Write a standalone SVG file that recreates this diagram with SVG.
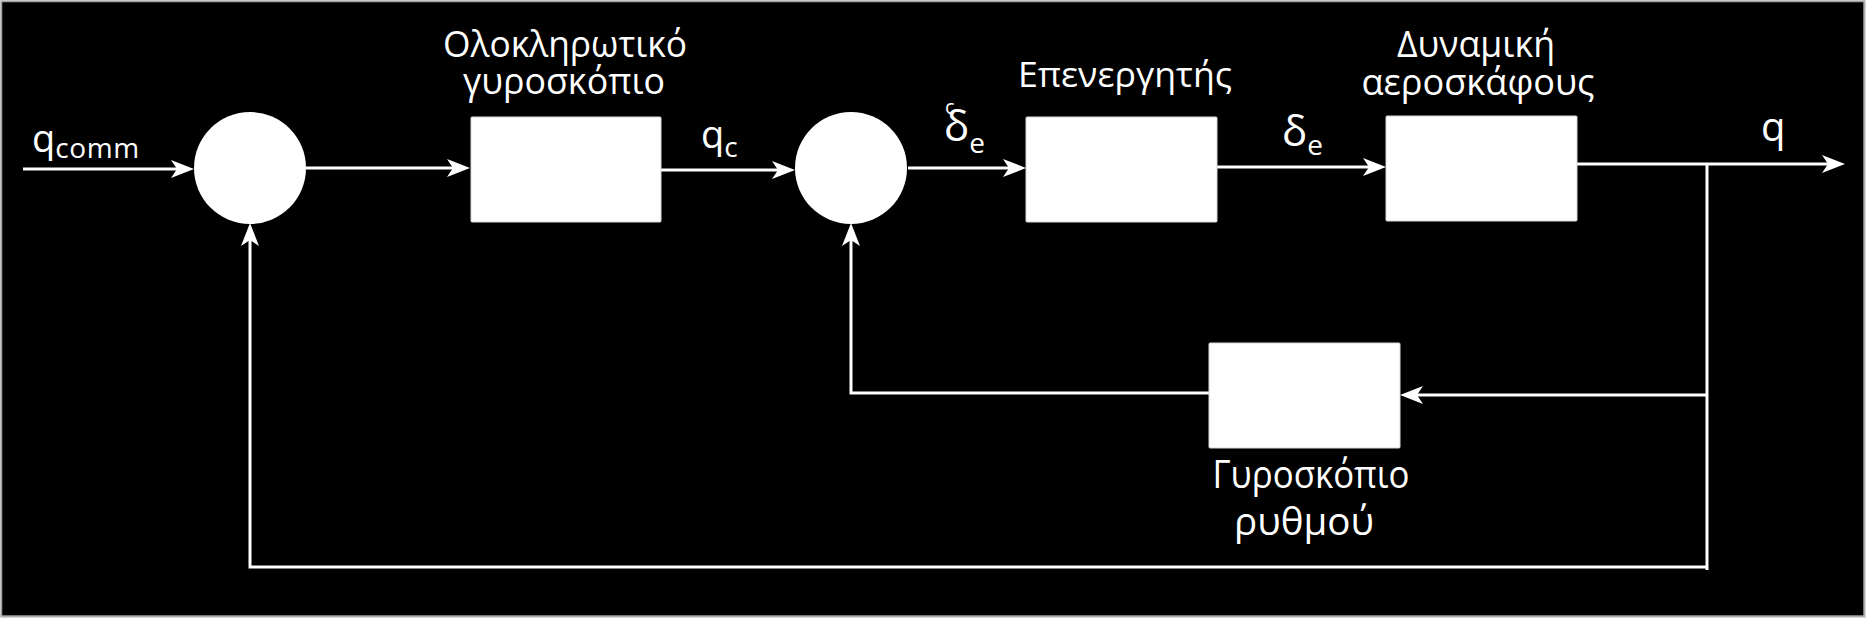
<svg xmlns="http://www.w3.org/2000/svg" width="1866" height="618" viewBox="0 0 1866 618">
<style>
.bg{fill:#000;stroke:#a0a0a0;stroke-width:1.5}
.blk{fill:#fff;stroke:#d8d8d8;stroke-width:1}
.ln{fill:none;stroke:#fff;stroke-width:3}
.ar{marker-end:url(#ah)}
text{font-family:"Open Sans","Noto Sans","Liberation Sans",sans-serif;fill:#fff}
.t{font-size:37px;text-anchor:middle}
</style>
<defs>
<marker id="ah" markerUnits="userSpaceOnUse" markerWidth="26" markerHeight="20" viewBox="0 0 26 20" refX="17" refY="10" orient="auto">
<path d="M23,10 L0,1 L6,10 L0,19 Z" fill="#fff"/>
</marker>
</defs>
<rect x="0" y="0" width="1866" height="618" fill="#d4d4d4"/>
<rect class="bg" x="1.5" y="1.5" width="1862.5" height="614.5"/>

<g id="connectors">
<path class="ln ar" d="M23,169 H188"/>
<path class="ln ar" d="M306,168 H464"/>
<path class="ln ar" d="M661,170 H789"/>
<path class="ln ar" d="M908,168 H1020"/>
<path class="ln ar" d="M1217,167 H1380"/>
<path class="ln ar" d="M1577,164 H1839"/>
<path class="ln" d="M1707,164 V570"/>
<path class="ln ar" d="M1707,395 H1406"/>
<path class="ln ar" d="M1209,393 H851 V229"/>
<path class="ln ar" d="M1707,567 H250 V229"/>
</g>

<g id="sum1"><circle cx="250" cy="168" r="56" fill="#fff"/></g>
<g id="sum2"><circle cx="851" cy="168" r="56" fill="#fff"/></g>

<g id="integrating-gyro">
<rect class="blk" x="471" y="117" width="190" height="105" rx="1"/>
<text class="t" x="565" y="57" textLength="244" lengthAdjust="spacingAndGlyphs">Ολοκληρωτικό</text>
<text class="t" x="564" y="94" textLength="202" lengthAdjust="spacingAndGlyphs">γυροσκόπιο</text>
</g>

<g id="actuator">
<rect class="blk" x="1026" y="117" width="191" height="105" rx="1"/>
<text class="t" x="1125" y="87" style="font-size:34px" textLength="214" lengthAdjust="spacingAndGlyphs">Επενεργητής</text>
</g>

<g id="aircraft">
<rect class="blk" x="1386" y="116" width="191" height="105" rx="1"/>
<text class="t" x="1476" y="57" textLength="158" lengthAdjust="spacingAndGlyphs">Δυναμική</text>
<text class="t" x="1478" y="95" textLength="233" lengthAdjust="spacingAndGlyphs">αεροσκάφους</text>
</g>

<g id="rate-gyro">
<rect class="blk" x="1209" y="343" width="191" height="105" rx="1"/>
<text class="t" x="1311" y="488" style="font-size:38px" textLength="197" lengthAdjust="spacingAndGlyphs">Γυροσκόπιο</text>
<text class="t" x="1304" y="535" style="font-size:38px" textLength="140" lengthAdjust="spacingAndGlyphs">ρυθμού</text>
</g>

<g id="labels">
<text x="32" y="152" font-size="38">q<tspan font-size="28" dy="6" textLength="84">comm</tspan></text>
<text x="701" y="148" font-size="38">q<tspan font-size="28" dy="9">c</tspan></text>
<text x="944" y="141" font-size="42">δ<tspan font-size="28" dy="12">e</tspan></text>
<text x="945" y="114" font-size="20">c</text>
<text x="1282" y="146" font-size="42">δ<tspan font-size="28" dy="9">e</tspan></text>
<text x="1761" y="141" font-size="40">q</text>
</g>
</svg>
